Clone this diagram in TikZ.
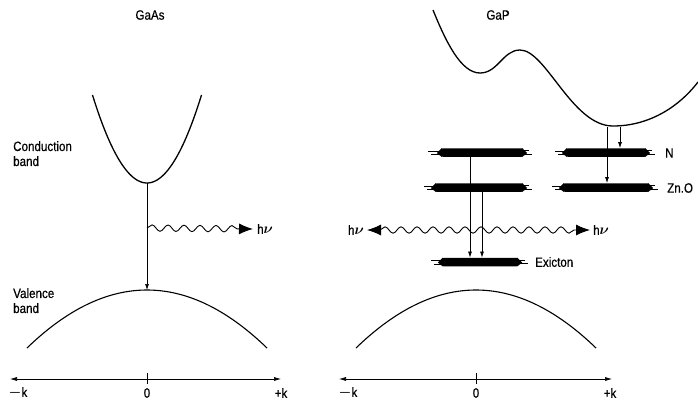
\documentclass[tikz,border=0pt]{standalone}
\usepackage{fontspec}
\setmainfont{Liberation Sans}[FakeStretch=0.86, FakeBold=0.5]
\usepackage{bm}
\usetikzlibrary{arrows.meta,decorations.pathmorphing,calc}
\begin{document}
\begin{tikzpicture}[x=1pt,y=-1pt,
  lab/.style={font=\fontsize{13.5}{15}\selectfont, inner sep=0pt},
  band/.style={line width=1.3pt},
  vband/.style={line width=1.1pt},
  lvl/.style={fill=black, minimum height=8.5pt, inner sep=0pt, rounded corners=1.5pt},
  smear/.style={line width=0.5pt},
  trans/.style={line width=0.7pt, -{Latex[length=6pt,width=4pt]}},
  wave/.style={line width=0.9pt, decorate, decoration={snake, amplitude=3.2pt, segment length=16pt, post length=13pt}},
  wavetwo/.style={line width=0.9pt, decorate, decoration={snake, amplitude=3.2pt, segment length=16pt, pre length=13pt, post length=13pt}},
  bigtip/.style={-{Latex[length=14pt,width=11pt]}},
  axis/.style={line width=0.6pt, {Latex[length=7pt,width=4pt]}-{Latex[length=7pt,width=4pt]}}
]
\useasboundingbox (0,0) rectangle (698,400);

% ---------- GaAs ----------
\node[lab] (tA) at (150,15) {GaAs};
\node[lab, anchor=north west, align=left] (cbl) at (13,141) {Conduction\\band};
\node[lab, anchor=north west, align=left] (vbl) at (13,288) {Valence\\band};

\draw[band] plot[domain=-54.5:54.5, samples=60, smooth] ({147+\x},{183-0.02963*\x*\x});
\draw[vband] plot[domain=-120:120, samples=60, smooth] ({147+\x},{290+0.004028*\x*\x});
\coordinate (cbA) at (147,183);
\coordinate (vbA) at (147,290);
\coordinate (wA) at (147,228);
\node[lab, anchor=west] (hvA) at (257,229) {h$\bm{\nu}$};
\draw[trans] (cbA) -- (vbA);
\draw[wave, bigtip] (wA) -- ($(hvA.west)+(-4,0)$);

\node[lab] (mkA) at (18,393) {$\bm{-}$k};
\node[lab] (zA) at (147,393) {0};
\node[lab] (pkA) at (281,393) {+k};
\coordinate (axAl) at (10,379);
\coordinate (axAr) at (281,379);
\draw[axis] (axAl) -- (axAr);
\draw[line width=0.6pt] (147,373) -- (147,384);

% ---------- GaP ----------
\node[lab] (tB) at (498,15) {GaP};
\draw[band] (433,10) .. controls (446,42) and (461,73) .. (480,73)
  .. controls (498,73) and (503,50) .. (520,50)
  .. controls (546,50) and (572,126) .. (613,126)
  .. controls (648,126) and (678,108) .. (698,82);
\draw[vband] plot[domain=-120:120, samples=60, smooth] ({476+\x},{290+0.004028*\x*\x});

% levels
\node[lvl, minimum width=82pt] (nU) at (482,152.5) {};
\node[lvl, minimum width=88pt] (nL) at (479,187.5) {};
\node[lvl, minimum width=80pt] (nN) at (606,152.5) {};
\node[lvl, minimum width=86pt] (nZ) at (606,187.5) {};
\node[lvl, minimum width=76pt] (nX) at (480,262) {};
\foreach \n/\a/\b in {nU/10/6, nL/8/6, nN/8/6, nZ/8/6, nX/8/7}{
  \fill ($(\n.north west)+(1,0)$) -- ($(\n.west)+(-4,0.5)$) -- ($(\n.south west)+(1,0)$) -- cycle;
  \fill ($(\n.north east)+(-1,0)$) -- ($(\n.east)+(4,0.5)$) -- ($(\n.south east)+(-1,0)$) -- cycle;
  \draw[smear] ($(\n.west)+(-\a-3,-1.5)$) -- ($(\n.west)+(2,-1.5)$);
  \draw[smear] ($(\n.west)+(-\a,1.8)$) -- ($(\n.west)+(2,1.8)$);
  \draw[smear] ($(\n.east)+(\b+3,1.5)$) -- ($(\n.east)+(-2,1.5)$);
  \draw[smear] ($(\n.east)+(\b,-1.8)$) -- ($(\n.east)+(-2,-1.8)$);
}
\node[lab, anchor=west] (lN) at (665,153) {N};
\node[lab, anchor=west] (lZ) at (667,188) {Zn.O};
\node[lab, anchor=west] (lX) at (535,262) {Exicton};

% transitions
\coordinate (cmA) at (607,126.5);
\coordinate (cmB) at (620,126.5);
\draw[trans] (cmB) -- (cmB |- nN.north);
\draw[trans] (cmA) -- (cmA |- nZ.north);
\coordinate (uA) at (470,153);
\coordinate (lB) at (482,187);
\draw[trans] (uA) -- (uA |- nX.north);
\draw[trans] (lB) -- (lB |- nX.north);

% photons
\node[lab, anchor=east] (hvL) at (364,230) {h$\bm{\nu}$};
\node[lab, anchor=west] (hvR) at (593,230) {h$\bm{\nu}$};
\draw[wavetwo, {Latex[length=14pt,width=11pt]}-{Latex[length=14pt,width=11pt]}] ($(hvL.east)+(3,0)$) -- ($(hvR.west)+(-3,0)$);

\node[lab] (mkB) at (348,393) {$\bm{-}$k};
\node[lab] (zB) at (476,393) {0};
\node[lab] (pkB) at (610,393) {+k};
\coordinate (axBl) at (339,379);
\coordinate (axBr) at (612,379);
\draw[axis] (axBl) -- (axBr);
\draw[line width=0.6pt] (476,373) -- (476,384);
\end{tikzpicture}
\end{document}
